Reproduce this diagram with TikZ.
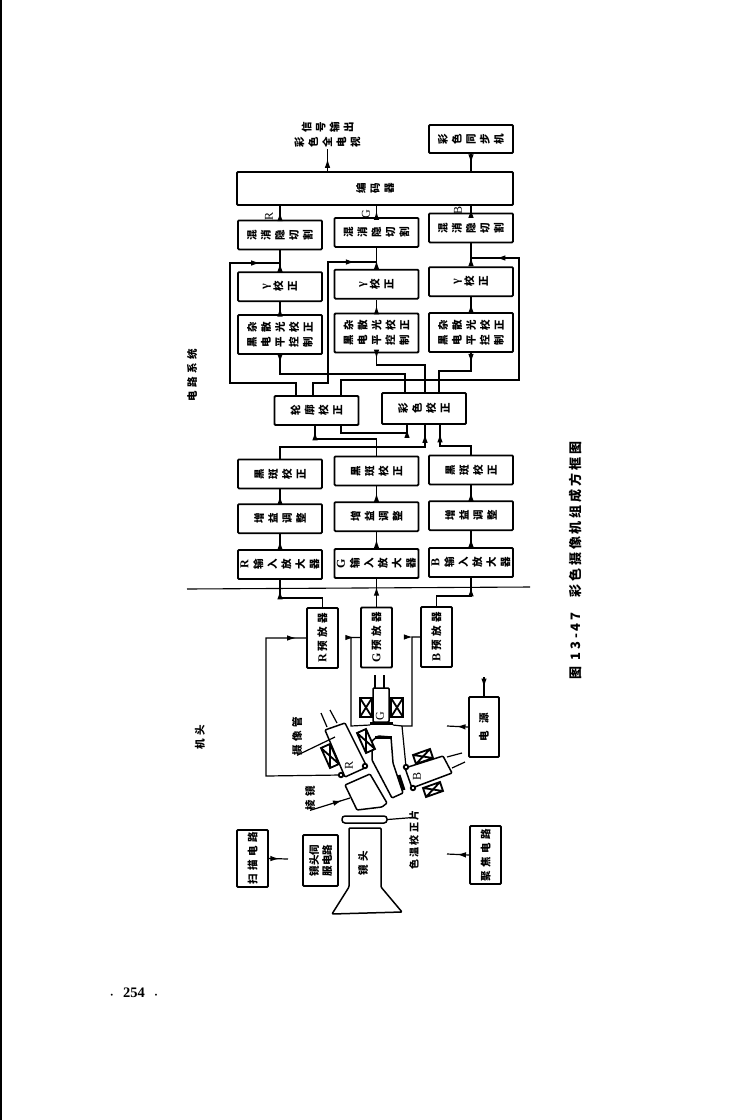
\documentclass[tikz,border=0pt]{standalone}
\usepackage{fontspec}
\usepackage{xcolor}
\usepackage{graphicx}
\setmainfont{Noto Sans CJK SC}
\newfontfamily\widefont{Noto Sans CJK SC}[LetterSpace=32]
\newfontfamily\capfont{Noto Sans CJK SC}[LetterSpace=22]
\newfontfamily\latinf{Liberation Serif}
\usetikzlibrary{arrows.meta, positioning, calc, decorations.markings}
\XeTeXlinebreaklocale "zh"
\XeTeXlinebreakskip=0pt plus 0.5pt
\newcommand{\stackcol}[1]{\parbox{12pt}{\centering\bfseries\fontsize{10.5}{14}\selectfont #1\par}}
\newcommand{\stacktxt}[1]{\rotatebox{90}{\stackcol{#1}}}
\newcommand{\stacktwo}[2]{\rotatebox{90}{\stackcol{#1}\hspace{3pt}\stackcol{#2}}}
\newcommand{\uptxt}[1]{\rotatebox{90}{#1}}
\newcommand{\latR}{{\latinf\fontsize{12}{14}\selectfont R}\hspace{0pt}}
\newcommand{\latG}{{\latinf\fontsize{12}{14}\selectfont G}\hspace{0pt}}
\newcommand{\latB}{{\latinf\fontsize{12}{14}\selectfont B}\hspace{0pt}}
\newcommand{\latg}{{\latinf\fontsize{12}{14}\selectfont γ}\hspace{0pt}}

\begin{document}
\begin{tikzpicture}[
  x=1pt, y=-1pt,
  colbox/.style={rectangle, draw=black, line width=1.8pt, rounded corners=1pt,
                 inner sep=0pt, minimum width=84pt, minimum height=29pt},
  tallbox/.style={colbox, minimum height=39pt},
  prebox/.style={colbox, minimum width=31pt, minimum height=60pt,
                 font=\widefont\bfseries\fontsize{10.5}{12}\selectfont},
  wire/.style={line width=1.2pt, black},
  flow/.style={wire, postaction={decorate},
               decoration={markings, mark=at position #1 with
                           {\arrow{Latex[length=9pt,width=5.5pt]}}}},
  flow/.default=0.55,
  optic/.style={line width=1.5pt, rounded corners=1pt},
  pad/.style={circle, draw=black, line width=1.8pt, fill=white,
              inner sep=0pt, minimum size=4.5pt},
  uplabel/.style={inner sep=0pt, font=\widefont\bfseries\fontsize{10.5}{12}\selectfont},
  rgblabel/.style={inner sep=0pt, font=\latinf\fontsize{12}{14}\selectfont}
]
\useasboundingbox (0,0) rectangle (738,1120);

% Page edge and separator
\coordinate (edgetop) at (1,0);
\coordinate (edgebot) at (1,1120);
\draw[line width=1.5pt] (edgetop) -- (edgebot);
\coordinate (sepl) at (187,589);
\coordinate (sepr) at (530,587);
\draw[line width=1.1pt] (sepl) -- (sepr);

% Encoder and top row
\node[colbox, minimum width=276pt, minimum height=33pt] (encoder) at (375,188.5)
  {\stacktxt{编码器}};
\node[colbox, minimum height=28pt] (syncgen) at (471,139) {\stacktxt{彩色同步机}};
\node[inner sep=0pt] (outlbl) at (327.5,135) {\stacktwo{彩色全电视}{信号输出}};

% R column
\node[colbox] (rin) at (280,564.5) {\stacktxt{\latR 输入放大器}};
\node[colbox, above=15pt of rin] (rgain) {\stacktxt{增益调整}};
\node[colbox, above=14pt of rgain] (rshade) {\stacktxt{黑斑校正}};
\node[tallbox] (rblack) at (280,334.5) {\stacktwo{黑电平控制}{杂散光校正}};
\node[colbox, above=12pt of rblack] (rgamma) {\stacktxt{\latg 校正}};
\node[colbox, above=21pt of rgamma] (rmix) {\stacktxt{混消隐切割}};

% G column
\node[colbox] (gin) at (376.5,563.5) {\stacktxt{\latG 输入放大器}};
\node[colbox, above=16pt of gin] (ggain) {\stacktxt{增益调整}};
\node[colbox, above=15pt of ggain] (gshade) {\stacktxt{黑斑校正}};
\node[tallbox] (gblack) at (376.5,333) {\stacktwo{黑电平控制}{杂散光校正}};
\node[colbox, above=13pt of gblack] (ggamma) {\stacktxt{\latg 校正}};
\node[colbox, above=21pt of ggamma] (gmix) {\stacktxt{混消隐切割}};

% B column
\node[colbox] (bin) at (471,562.5) {\stacktxt{\latB 输入放大器}};
\node[colbox, above=16pt of bin] (bgain) {\stacktxt{增益调整}};
\node[colbox, above=15pt of bgain] (bshade) {\stacktxt{黑斑校正}};
\node[tallbox] (bblack) at (471,332.5) {\stacktwo{黑电平控制}{杂散光校正}};
\node[colbox, above=15pt of bblack] (bgamma) {\stacktxt{\latg 校正}};
\node[colbox, above=23pt of bgamma] (bmix) {\stacktxt{混消隐切割}};

% Correction boxes
\node[colbox] (contour) at (316.5,410.5) {\stacktxt{轮廓校正}};
\node[colbox, minimum height=31pt] (colour) at (424,408.5) {\stacktxt{彩色校正}};

% Preamplifiers
\node[prebox] (rpre) at (322.5,638) {\uptxt{\latR\hspace{3pt}预放器}};
\node[prebox] (gpre) at (376.5,637.5) {\uptxt{\latG\hspace{3pt}预放器}};
\node[prebox] (bpre) at (436.5,637) {\uptxt{\latB\hspace{3pt}预放器}};

% Side circuits
\node[prebox, minimum height=57pt] (scan) at (252.5,858.5) {\uptxt{扫描电路}};
\node[prebox, minimum width=35pt, minimum height=51pt] (servo) at (320.5,860.5)
  {\uptxt{\parbox{50pt}{\centering 镜头伺\\[1pt]服电路}}};
\node[prebox, minimum height=58pt] (focus) at (485.5,855) {\uptxt{聚焦电路}};
\node[prebox, minimum width=30pt] (power) at (484,727) {\uptxt{电\hspace{8pt}源}};

% Free labels
\node[uplabel] (circlbl) at (192,375) {\uptxt{电路系统}};
\node[uplabel] (headlbl) at (200,737) {\uptxt{机头}};
\node[uplabel] (tubelbl) at (297,736) {\uptxt{摄像管}};
\node[uplabel] (prismlbl) at (310,798) {\uptxt{棱镜}};
\node[uplabel] (lenslbl) at (363,863) {\uptxt{镜头}};
\node[uplabel, font=\capfont\bfseries\fontsize{10}{12}\selectfont] (filterlbl) at (414,840)
  {\uptxt{色温校正片}};
\node[rgblabel] (rlbl) at (269,216) {\uptxt{R}};
\node[rgblabel] (glbl) at (366,214) {\uptxt{G}};
\node[rgblabel] (blbl) at (458,210) {\uptxt{B}};
\node[rgblabel] (rtube) at (349,765) {\uptxt{R}};
\node[rgblabel] (gtube) at (380,716) {\uptxt{G}};
\node[rgblabel] (btube) at (417,776) {\uptxt{B}};

% Caption and page number
\node[inner sep=0pt, font=\capfont\bfseries\fontsize{13}{15}\selectfont] (caption) at (576,560.5)
  {\uptxt{图 13-47 \hspace{9pt}彩色摄像机组成方框图}};
\node[inner sep=0pt, font=\latinf\bfseries\fontsize{14.5}{16}\selectfont] (pageno) at (134,993)
  {{\fontsize{7}{8}\selectfont •}\hspace{10pt}254\hspace{10pt}{\fontsize{7}{8}\selectfont •}};

% Signal chains going up
\draw[flow] (rin) -- (rgain);
\draw[flow] (rgain) -- (rshade);
\draw[flow] (gin) -- (ggain);
\draw[flow] (ggain) -- (gshade);
\draw[flow] (bin) -- (bgain);
\draw[flow] (bgain) -- (bshade);
\draw[flow] (rblack) -- (rgamma);
\draw[flow] (gblack) -- (ggamma);
\draw[flow] (bblack) -- (bgamma);
\draw[flow=0.4] (rgamma) -- (rmix);
\draw[flow=0.4] (ggamma) -- (gmix);
\draw[flow=0.4] (bgamma) -- (bmix);
\draw[flow] (rmix.north) -- (rmix.north |- encoder.south);
\draw[flow] (gmix.north) -- (gmix.north |- encoder.south);
\draw[flow] (bmix.north) -- (bmix.north |- encoder.south);
\draw[flow] (outlbl.south |- encoder.north) -- (outlbl.south);
\draw[flow] (syncgen.south) -- (syncgen.south |- encoder.north);

% Feedback from contour box
\coordinate (rtap) at (rmix.south |- 0,263);
\coordinate (gtap) at (gmix.south |- 0,262);
\coordinate (btap) at (bmix.south |- 0,258);
\draw[flow=0.92] ([xshift=-20.5pt]contour.north) |- (230,383) -- (230,263) -- (rtap);
\draw[flow=0.89] ([xshift=-3.5pt]contour.north) |- (328,383) -- (328,262) -- (gtap);
\draw[flow=0.93] ([xshift=24.5pt]contour.north) |- (519,380) -- (519,258) -- (btap);

% Black level to colour box
\draw[flow=0.05] (rblack.south) -- (280,374) -| ([xshift=-19pt]colour.north);
\draw[flow=0.06] (gblack.south) -- (376.5,365) -| ([xshift=1pt]colour.north);
\draw[flow=0.14] (bblack.south) -- (471,371) -| ([xshift=15pt]colour.north);

% Shading to correction boxes
\draw[flow=0.95] (rshade.north) -- (280,447) -| ([xshift=1pt]colour.south);
\draw[flow=0.94] (gshade.north) -- (376.5,439) -| ([xshift=-1.5pt]contour.south);
\draw[flow=0.86] (bshade.north) -- (471,446) -| ([xshift=16pt]colour.south);
\draw[flow=0.95] ([xshift=24.5pt]contour.south) -- (341,433) -| ([xshift=-17pt]colour.south);

% Preamps to inputs
\draw[flow=0.85] (rpre.north) |- (280,598) -- (rin.south);
\draw[flow=0.72] (gpre.north) -- (gin.south);
\draw[flow=0.85] (bpre.north) |- (471,596) -- (bin.south);

% Tubes, prisms and lens
\draw[optic] (349,828) -- (381,828) -- (381,887) -- (402,912) -- (332,914) -- (349,887) -- cycle;
\node[draw, line width=1.5pt, rounded corners=3pt, inner sep=0pt,
      minimum width=45pt, minimum height=7pt] (filter) at (364.5,819.5) {};
\draw[optic] (345,785) -- (370,774) -- (387,803) -- (382,807) -- (357,810) -- cycle;
\draw[optic] (372,741) -- (378,736) -- (391,737) -- (393,763) -- (403,793) -- (392,798) -- (372,760) -- cycle;
\draw[line width=3pt] (375,737) -- (392,737);
\draw[line width=3pt] (399,775) -- (404,790);
% R tube
\draw[optic] (325,730) -- (345,723) -- (367,767) -- (345,777) -- cycle;
\draw[wire] (327,727) -- (321,713) (337,723) -- (330,710);
\draw[line width=1.8pt, fill=white] (321,748) -- (330,744) -- (339,764) -- (330,768) -- cycle
  (321,748) -- (339,764) (330,744) -- (330,768);
\draw[line width=1.8pt, fill=white] (357,733) -- (366,729) -- (375,749) -- (366,753) -- cycle
  (357,733) -- (375,749) (366,729) -- (366,753);
% G tube
\draw[optic] (373,688) -- (389,688) -- (389,722) -- (373,722) -- cycle;
\draw[wire] (375,675) -- (375,688) (384,675) -- (384,688);
\draw[line width=3pt] (370,723) -- (393,723);
\draw[line width=1.8pt, fill=white] (360,698) rectangle (372,717)
  (360,698) -- (372,717) (372,698) -- (360,717);
\draw[line width=1.8pt, fill=white] (391,698) rectangle (403,717)
  (391,698) -- (403,717) (403,698) -- (391,717);
% B tube
\draw[optic] (405,768) -- (443,756) -- (452,773) -- (412,788) -- cycle;
\draw[wire] (447,757) -- (462,753) (452,768) -- (465,762);
\draw[line width=1.8pt, fill=white] (413,755) -- (430,749) -- (433,758) -- (416,764) -- cycle
  (413,755) -- (433,758) (430,749) -- (416,764);
\draw[line width=1.8pt, fill=white] (423,788) -- (440,782) -- (443,791) -- (426,797) -- cycle
  (423,788) -- (443,791) (440,782) -- (426,797);
% Tube pads
\node[pad] (rpad) at (341,775) {};
\node[pad] (rpadb) at (365,766) {};
\node[pad] (bpad) at (406,767) {};
\node[pad] (bpadb) at (413,788) {};
\coordinate (gpad) at (370,725);
\coordinate (gpadb) at (393,725);

% Tubes to preamps
\draw[flow=0.96] (rpad) -- (266,776) |- (rpre.west);
\draw[flow=0.95] (gpad) -- (351,726) |- (gpre.west);
\draw[flow=0.95] (bpad) -- (402,726) -- (412,726) |- (bpre.west);
\draw[wire] (gpadb) -- (402,726);

% Annotation lines
\draw[wire] (tubelbl.south) -- (335,737);
\draw[flow=0.8] (prismlbl.south) -- (350,798);
\draw[wire] (filter.east) -- ([yshift=-7pt]filterlbl.north);

% Circuit arrows
\coordinate (scanend) at (288,859);
\coordinate (focusend) at (447,854);
\coordinate (powerend) at (447,726);
\coordinate (powertop) at (484,677);
\draw[flow] (scan.east) -- (scanend);
\draw[flow] (focus.west) -- (focusend);
\draw[flow] (power.west) -- (powerend);
\draw[flow] (powertop) -- (power.north);

\end{tikzpicture}
\end{document}
